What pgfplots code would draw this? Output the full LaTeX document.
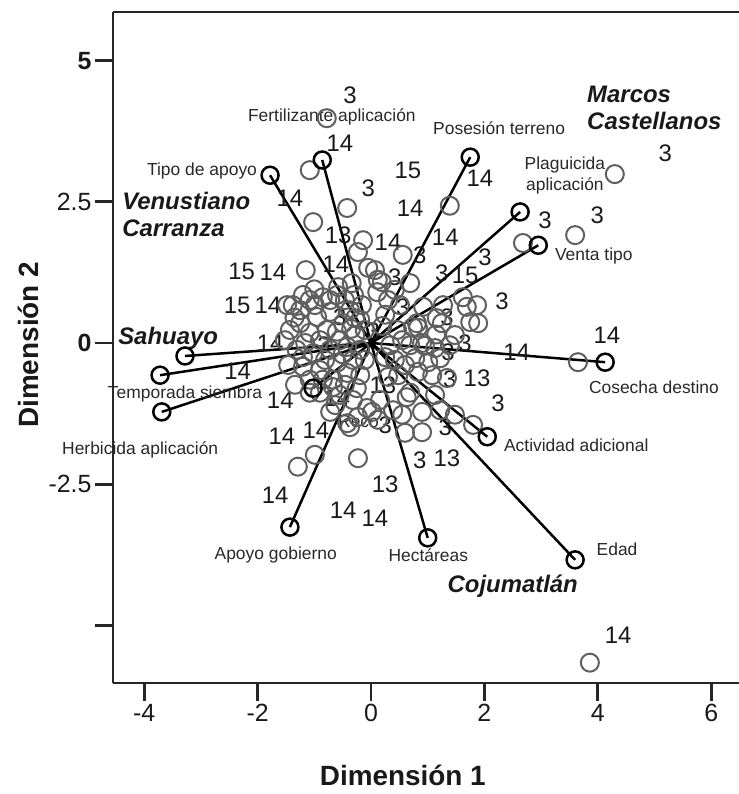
\documentclass[border=0pt]{standalone}
\usepackage{pgfplots}
\pgfplotsset{compat=1.18}
\usepackage{fontspec}
\setmainfont{Liberation Sans}
\definecolor{ptgray}{RGB}{95,95,95}
\definecolor{numcol}{RGB}{25,25,25}
\definecolor{varcol}{RGB}{40,40,40}
\begin{document}
\begin{tikzpicture}[
  num/.style={font=\fontsize{24}{24}\selectfont, text=numcol, inner sep=0pt},
  var/.style={font=\fontsize{17.5}{21}\selectfont, text=varcol, inner sep=0pt, align=center},
  place/.style={font=\fontsize{24}{27}\selectfont\bfseries\itshape, text=numcol, inner sep=0pt, align=left, anchor=west}]
\begin{axis}[
  at={(0,0)}, anchor=south west,
  width=626bp, height=671bp, scale only axis,
  xmin=-4.55, xmax=6.49, ymin=-6.02, ymax=5.86,
  axis lines=left,
  axis line style={-, line width=2.2bp, black!85},
  clip=false,
  tick align=outside,
  major tick length=18bp,
  tick style={line width=2.8bp, black!85},
  xtick={-4,-2,0,2,4,6},
  xticklabels={-4,-2,0,2,4,6},
  ytick={-5,-2.5,0,2.5,5},
  yticklabels={{},-2.5,\textbf{0},2.5,\textbf{5}},
  xticklabel style={font=\fontsize{25}{25}\selectfont, text=numcol},
  yticklabel style={font=\fontsize{25}{25}\selectfont, text=numcol},
  xlabel={\textbf{Dimensión 1}},
  ylabel={\textbf{Dimensión 2}},
  x label style={at={(axis description cs:0.463,-0.137)}, anchor=center, font=\fontsize{28}{28}\selectfont, text=numcol},
  y label style={at={(axis description cs:-0.1358,0.504)}, anchor=center, font=\fontsize{28}{28}\selectfont, text=numcol},
]
% object points (grey circles)
\addplot[only marks, mark=o, mark size=9bp, mark options={draw=ptgray, line width=2bp}] table {
x y
-0.78 3.98
-1.08 3.06
4.30 2.99
3.60 1.91
2.68 1.77
1.39 2.43
3.65 -0.34
3.86 -5.66
-0.42 2.39
-1.02 2.14
-1.15 1.29
-1.29 -2.19
-0.99 -1.98
-0.23 -2.04
-0.14 1.82
-0.23 1.61
-0.05 1.33
0.12 1.12
-0.58 0.99
0.56 1.56
0.69 1.06
0.19 1.08
0.07 1.29
1.87 0.67
1.89 0.35
1.62 0.81
1.27 0.67
0.92 0.64
0.81 0.35
0.46 0.23
0.74 0.28
1.16 0.44
1.25 0.35
0.83 0.27
1.69 0.64
1.48 0.14
1.75 0.37
0.69 -0.04
0.90 0.00
1.13 -0.09
0.78 -0.27
1.01 -0.34
1.22 -0.27
0.83 -0.51
1.08 -0.57
0.60 -0.39
1.34 -0.62
0.42 -0.30
0.34 -0.04
1.39 -0.04
0.48 -0.57
0.55 -1.27
0.90 -1.22
0.60 -1.59
0.90 -1.58
0.63 -0.96
1.13 -0.92
0.69 -0.88
0.39 -1.19
1.22 -1.19
1.48 -1.27
1.80 -1.45
0.16 -1.01
0.02 -1.22
0.12 -1.36
-0.63 -1.10
-0.37 -1.49
-0.07 -1.15
-0.23 -1.31
-0.72 -1.22
-0.42 -1.42
-0.90 -0.88
-0.32 -1.01
-0.67 -0.78
-1.08 -0.88
-0.55 -0.92
-0.34 1.06
-0.46 0.76
-0.16 0.67
-0.28 0.44
-0.11 0.23
0.30 0.76
0.11 0.90
0.42 0.94
0.25 0.50
0.51 0.67
-1.38 0.67
-1.08 0.76
-0.85 0.81
-0.60 0.85
-1.25 0.35
-1.43 0.23
-0.95 0.46
-0.72 0.55
-0.49 0.35
-0.19 0.41
-1.08 0.18
-0.78 0.23
-1.31 -0.12
-1.02 -0.18
-0.72 -0.12
-0.42 -0.07
-1.20 -0.42
-0.90 -0.48
-0.60 -0.35
-0.32 -0.30
-1.08 -0.65
-0.67 -0.65
-0.42 -0.53
-1.34 -0.74
-1.48 0.67
-1.52 0.05
-1.46 -0.39
-1.25 0.58
-0.90 0.05
-0.55 0.05
-0.19 -0.12
-1.16 0.00
-0.81 -0.30
-0.46 -0.74
-0.19 -0.57
-0.99 0.67
-0.37 0.58
-0.28 0.14
-0.11 -0.30
-0.72 0.76
-1.20 0.85
-0.30 0.85
-1.35 0.45
-0.60 0.20
-0.35 0.25
-1.20 -0.25
-0.50 -0.20
-0.85 -0.65
-0.25 -0.80
-1.00 0.95
0.25 -0.25
0.20 0.30
0.55 0.05
0.30 -0.60
0.95 -0.05
1.15 0.15
};
% variable vectors
\addplot[black, line width=2.5bp, empty line=jump] table {
x y
0 0
-1.78 2.97

0 0
-0.86 3.24

0 0
1.75 3.29

0 0
2.63 2.32

0 0
2.95 1.73

0 0
4.13 -0.34

0 0
2.05 -1.66

0 0
3.60 -3.84

0 0
1.00 -3.45

0 0
-1.43 -3.26

0 0
-3.69 -1.22

0 0
-3.72 -0.57

0 0
-3.28 -0.23

0 0
-1.02 -0.80
};
\addplot[only marks, mark=o, mark size=8.5bp, mark options={draw=black, line width=2.5bp}] table {
x y
-1.78 2.97
-0.86 3.24
1.75 3.29
2.63 2.32
2.95 1.73
4.13 -0.34
2.05 -1.66
3.60 -3.84
1.00 -3.45
-1.43 -3.26
-3.69 -1.22
-3.72 -0.57
-3.28 -0.23
-1.02 -0.80
};
% top frame line
\draw[line width=2.2bp, black!85] (rel axis cs:0,1) -- (rel axis cs:1,1);
% point labels
\node[num] at (axis cs:-0.37,4.39) {3};
\node[num] at (axis cs:-0.55,3.54) {14};
\node[num] at (axis cs:-0.05,2.74) {3};
\node[num] at (axis cs:0.65,3.06) {15};
\node[num] at (axis cs:1.92,2.92) {14};
\node[num] at (axis cs:0.69,2.39) {14};
\node[num] at (axis cs:-1.43,2.57) {14};
\node[num] at (axis cs:-0.58,1.91) {13};
\node[num] at (axis cs:0.30,1.79) {14};
\node[num] at (axis cs:1.31,1.88) {14};
\node[num] at (axis cs:-0.62,1.40) {14};
\node[num] at (axis cs:0.86,1.56) {3};
\node[num] at (axis cs:0.42,1.17) {3};
\node[num] at (axis cs:1.25,1.24) {3};
\node[num] at (axis cs:1.66,1.20) {15};
\node[num] at (axis cs:2.01,1.52) {3};
\node[num] at (axis cs:2.31,0.73) {3};
\node[num] at (axis cs:-0.55,0.46) {3};
\node[num] at (axis cs:0.56,0.64) {3};
\node[num] at (axis cs:1.34,0.46) {3};
\node[num] at (axis cs:-0.83,-0.04) {3};
\node[num] at (axis cs:0.04,0.21) {3};
\node[num] at (axis cs:1.36,-0.16) {3};
\node[num] at (axis cs:1.66,0.00) {3};
\node[num] at (axis cs:2.57,-0.16) {14};
\node[num] at (axis cs:4.16,0.14) {14};
\node[num] at (axis cs:1.39,-0.65) {3};
\node[num] at (axis cs:1.87,-0.62) {13};
\node[num] at (axis cs:2.24,-1.06) {3};
\node[num] at (axis cs:1.31,-1.49) {3};
\node[num] at (axis cs:0.86,-2.07) {3};
\node[num] at (axis cs:1.34,-2.04) {13};
\node[num] at (axis cs:0.25,-2.51) {13};
\node[num] at (axis cs:-0.49,-2.96) {14};
\node[num] at (axis cs:0.07,-3.10) {14};
\node[num] at (axis cs:0.21,-0.74) {13};
\node[num] at (axis cs:-1.78,0.00) {14};
\node[num] at (axis cs:-2.36,0.67) {15};
\node[num] at (axis cs:-1.82,0.67) {14};
\node[num] at (axis cs:-2.28,1.26) {15};
\node[num] at (axis cs:-1.73,1.26) {14};
\node[num] at (axis cs:-2.35,-0.50) {14};
\node[num] at (axis cs:-1.60,-1.01) {14};
\node[num] at (axis cs:-1.57,-1.66) {14};
\node[num] at (axis cs:-0.97,-1.54) {14};
\node[num] at (axis cs:-1.69,-2.69) {14};
\node[num] at (axis cs:-0.60,-0.98) {14};
\node[num] at (axis cs:0.25,-1.45) {3};
\node[num] at (axis cs:5.19,3.36) {3};
\node[num] at (axis cs:3.07,2.18) {3};
\node[num] at (axis cs:3.99,2.27) {3};
\node[num] at (axis cs:4.36,-5.17) {14};
% variable labels
\node[var] at (axis cs:-0.69,4.00) {Fertilizante aplicación};
\node[var] at (axis cs:-2.98,3.04) {Tipo de apoyo};
\node[var] at (axis cs:2.26,3.81) {Posesión terreno};
\node[var] at (axis cs:3.42,2.96) {Plaguicida\\aplicación};
\node[var] at (axis cs:3.93,1.54) {Venta tipo};
\node[var] at (axis cs:4.99,-0.78) {Cosecha destino};
\node[var] at (axis cs:3.62,-1.81) {Actividad adicional};
\node[var] at (axis cs:4.34,-3.65) {Edad};
\node[var] at (axis cs:1.01,-3.75) {Hectáreas};
\node[var] at (axis cs:-1.68,-3.75) {Apoyo gobierno};
\node[var] at (axis cs:-4.07,-1.89) {Herbicida aplicación};
\node[var] at (axis cs:-3.28,-0.90) {Temporada siembra};
\node[var] at (axis cs:-0.22,-1.40) {Reco};
% place names
\node[place] at (axis cs:3.81,4.16) {Marcos\\Castellanos};
\node[place] at (axis cs:-4.39,2.27) {Venustiano\\Carranza};
\node[place] at (axis cs:-4.46,0.09) {Sahuayo};
\node[place, anchor=center] at (axis cs:2.50,-4.30) {Cojumatlán};
\end{axis}
\pgfresetboundingbox
\path[use as bounding box] (-113bp,-111bp) rectangle (626bp,683bp);
\end{tikzpicture}
\end{document}
